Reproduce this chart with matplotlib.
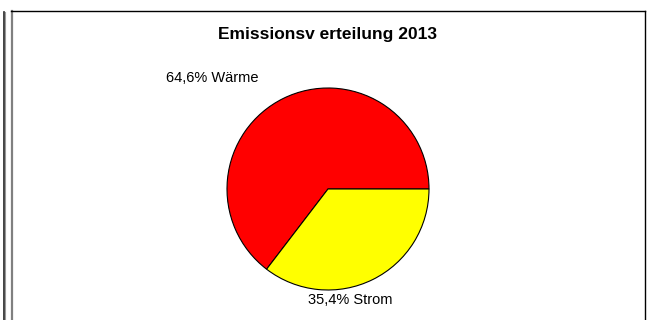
import matplotlib.pyplot as plt
from matplotlib.lines import Line2D

plt.rcParams['font.family'] = ['Liberation Sans', 'DejaVu Sans']

title = 'Emissionsv erteilung 2013'
labels = ['Wärme', 'Strom']
shares = [64.6, 35.4]
colors = ['#ff0000', '#ffff00']

W, H = 647, 320
fig = plt.figure(figsize=(W / 100, H / 100), dpi=100)

# chart frame: grey left edge, black top and right edge, open at the bottom
def px_line(x0, y0, x1, y1, **kw):
    fig.add_artist(Line2D([x0 / W, x1 / W], [1 - y0 / H, 1 - y1 / H],
                          transform=fig.transFigure, **kw))

px_line(3.5, 12, 3.5, H, color='#222222', lw=1.2)
px_line(4.8, 12, 4.8, H, color='#999999', lw=0.8)
px_line(11.5, 11, 11.5, H, color='#808080', lw=1.6)
px_line(11, 11, 644.5, 11, color='black', lw=1.0)
px_line(644.5, 11, 644.5, H, color='black', lw=1.0)

fig.text(328 / W, 1 - 35 / H, title, ha='center', va='center',
         fontsize=12.5, fontweight='bold')

# pie centred at (328, 189) px, radius ~101 px
cx, cy, r = 328, 189, 101
ax = fig.add_axes([(cx - r) / W, 1 - (cy + r) / H, 2 * r / W, 2 * r / H])
ax.pie(shares, colors=colors, startangle=0, counterclock=True, radius=1,
       wedgeprops=dict(edgecolor='black', linewidth=0.8))
ax.set_xlim(-1, 1)
ax.set_ylim(-1, 1)
ax.set_aspect('auto')
ax.axis('off')

label_pos = [(212, 78), (350, 300)]
for (lx, ly), lab, val in zip(label_pos, labels, shares):
    txt = f'{val:.1f}'.replace('.', ',') + '% ' + lab
    fig.text(lx / W, 1 - ly / H, txt, ha='center', va='center', fontsize=10.5)

fig.savefig('out.png', dpi=100)
